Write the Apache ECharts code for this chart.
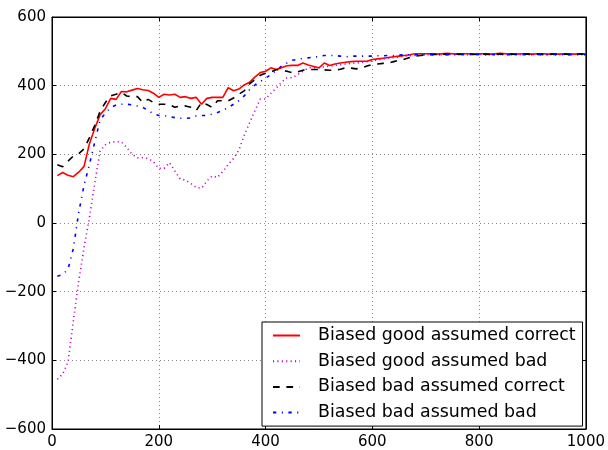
<!DOCTYPE html>
<html>
<head>
<meta charset="utf-8">
<script src="https://cdn.jsdelivr.net/npm/echarts@6/dist/echarts.min.js"></script>
<style>html,body{margin:0;padding:0;background:#fff;}#c{width:608px;height:450px;}</style>
</head>
<body>
<div id="c"></div>
<script>
const xs = [10,20,30,40,50,60,70,80,90,100,110,120,130,140,150,160,170,180,190,200,
210,220,230,240,250,260,270,280,290,300,310,320,330,340,350,360,370,380,390,400,
410,420,430,440,450,460,470,480,490,500,510,520,530,540,550,560,570,580,590,600,
610,620,630,640,650,660,670,680,690,700,710,720,730,740,750,760,770,780,790,800,
810,820,830,840,850,860,870,880,890,900,910,920,930,940,950,960,970,980,990,1000];

const goodCorrect = [138,147,139,135,148,165,230,275,315,333,
363,360,383,382,387,392,388,386,378,366,
375,373,375,366,368,363,366,346,363,366,
366,366,394,385,390,402,410,425,438,442,
452,447,452,458,459,459,466,460,456,452,
466,459,463,466,468,470,471,471,471,476,
478,480,482,484,486,488,490,493,493,493,
493,492,493,494,493,492,493,493,492,493,
493,492,493,494,493,493,492,493,493,492,
493,493,492,493,492,493,493,492,493,493];

const goodBad = [-455,-440,-405,-285,-170,-72,15,115,210,228,
235,237,236,220,200,190,190,188,178,159,
159,176,152,128,125,115,104,101,122,137,
133,150,170,188,212,255,292,327,361,361,
378,393,410,423,423,432,442,452,452,452,
455,457,459,461,463,465,466,468,470,472,
475,478,480,482,484,486,487,488,489,490,
490,491,490,491,491,490,491,490,491,491,
490,491,491,490,491,490,491,491,490,491,
491,490,491,490,491,491,490,491,490,491];

const badCorrect = [170,164,180,195,202,216,248,284,325,351,
370,375,380,370,368,368,351,360,351,346,
346,345,337,341,341,337,327,351,345,337,
356,356,356,364,375,385,405,418,430,436,
440,447,445,442,438,440,445,447,447,447,
446,445,445,448,452,451,449,452,457,462,
463,465,466,470,474,477,482,486,488,490,
491,491,492,491,492,492,491,492,491,492,
492,491,492,492,491,492,491,492,492,491,
492,491,492,492,491,492,491,492,492,492];

const badBad = [-155,-150,-135,-74,30,110,170,235,300,320,
336,344,346,346,344,341,337,328,318,313,
313,310,307,305,305,306,312,313,313,317,
322,328,336,346,356,370,388,402,412,422,
432,444,457,466,474,477,479,481,483,485,
488,488,488,486,484,486,486,486,486,486,
487,487,488,488,489,490,490,490,490,490,
490,491,490,490,491,490,491,490,490,491,
490,491,490,491,490,490,491,490,491,490,
491,490,490,491,490,491,490,490,491,490];

const names = ['Biased good assumed correct','Biased good assumed bad','Biased bad assumed correct','Biased bad assumed bad'];
const xTicks = {min:0, max:1000, interval:200};
const yTicks = {min:-600, max:600, interval:200};

function pairs(ys){ return xs.map((x,i)=>[x, ys[i]]); }
function fmt(v){ return String(v).replace('-', '\u2212'); }

const FONT = 'DejaVu Sans';
const chart = echarts.init(document.getElementById('c'), null, {renderer:'canvas'});

const labelStyle = {color:'#000', fontFamily:FONT, fontSize:15, formatter:fmt};
const mainAxisCommon = {
  type:'value',
  axisLine:{show:true, onZero:false, lineStyle:{color:'#000', width:1}},
  axisTick:{show:true, inside:true, length:4, lineStyle:{color:'#000'}},
  splitLine:{show:true, lineStyle:{color:'#888', width:1, type:[1,3]}},
};
const secAxisCommon = {
  type:'value',
  axisLine:{show:true, onZero:false, lineStyle:{color:'#000', width:1}},
  axisTick:{show:true, inside:true, length:4, lineStyle:{color:'#000'}},
  splitLine:{show:false},
  axisLabel:{show:false},
};

function lineSeries(name, ys, color, dash, z){
  return {
    name, type:'line', data:pairs(ys), symbol:'none', showSymbol:false,
    lineStyle:{color, width:1.6, type:dash}, itemStyle:{color},
    z, animation:false, emphasis:{disabled:true}
  };
}

chart.setOption({
  animation:false,
  backgroundColor:'#fff',
  grid:{left:52, right:18, top:17, bottom:17, show:true, borderColor:'#000', borderWidth:1, backgroundColor:'transparent'},
  xAxis:[
    Object.assign({}, mainAxisCommon, xTicks, {position:'bottom', axisLabel:Object.assign({}, labelStyle, {margin:6})}),
    Object.assign({}, secAxisCommon, xTicks, {position:'top'})
  ],
  yAxis:[
    Object.assign({}, mainAxisCommon, yTicks, {position:'left', axisLabel:Object.assign({}, labelStyle, {margin:6})}),
    Object.assign({}, secAxisCommon, yTicks, {position:'right'})
  ],
  legend:{
    data:names,
    orient:'vertical',
    left:262, top:322,
    padding:[5,7,5,10],
    itemWidth:27, itemHeight:17, itemGap:8.7,
    itemStyle:{opacity:0},
    backgroundColor:'#fff',
    borderColor:'#000', borderWidth:1, borderRadius:0,
    textStyle:{fontFamily:FONT, fontSize:17.4, color:'#000', padding:[0,0,0,13], lineHeight:17},
    selectedMode:false
  },
  series:[
    lineSeries(names[0], goodCorrect, '#ff0000', 'solid', 2),
    lineSeries(names[1], goodBad, '#bf00bf', [1.1,3.3], 3),
    lineSeries(names[2], badCorrect, '#000000', [6.7,6.7], 4),
    lineSeries(names[3], badBad, '#0000ff', [3.3,5.5,1.1,5.5], 5)
  ]
});
</script>
</body>
</html>
